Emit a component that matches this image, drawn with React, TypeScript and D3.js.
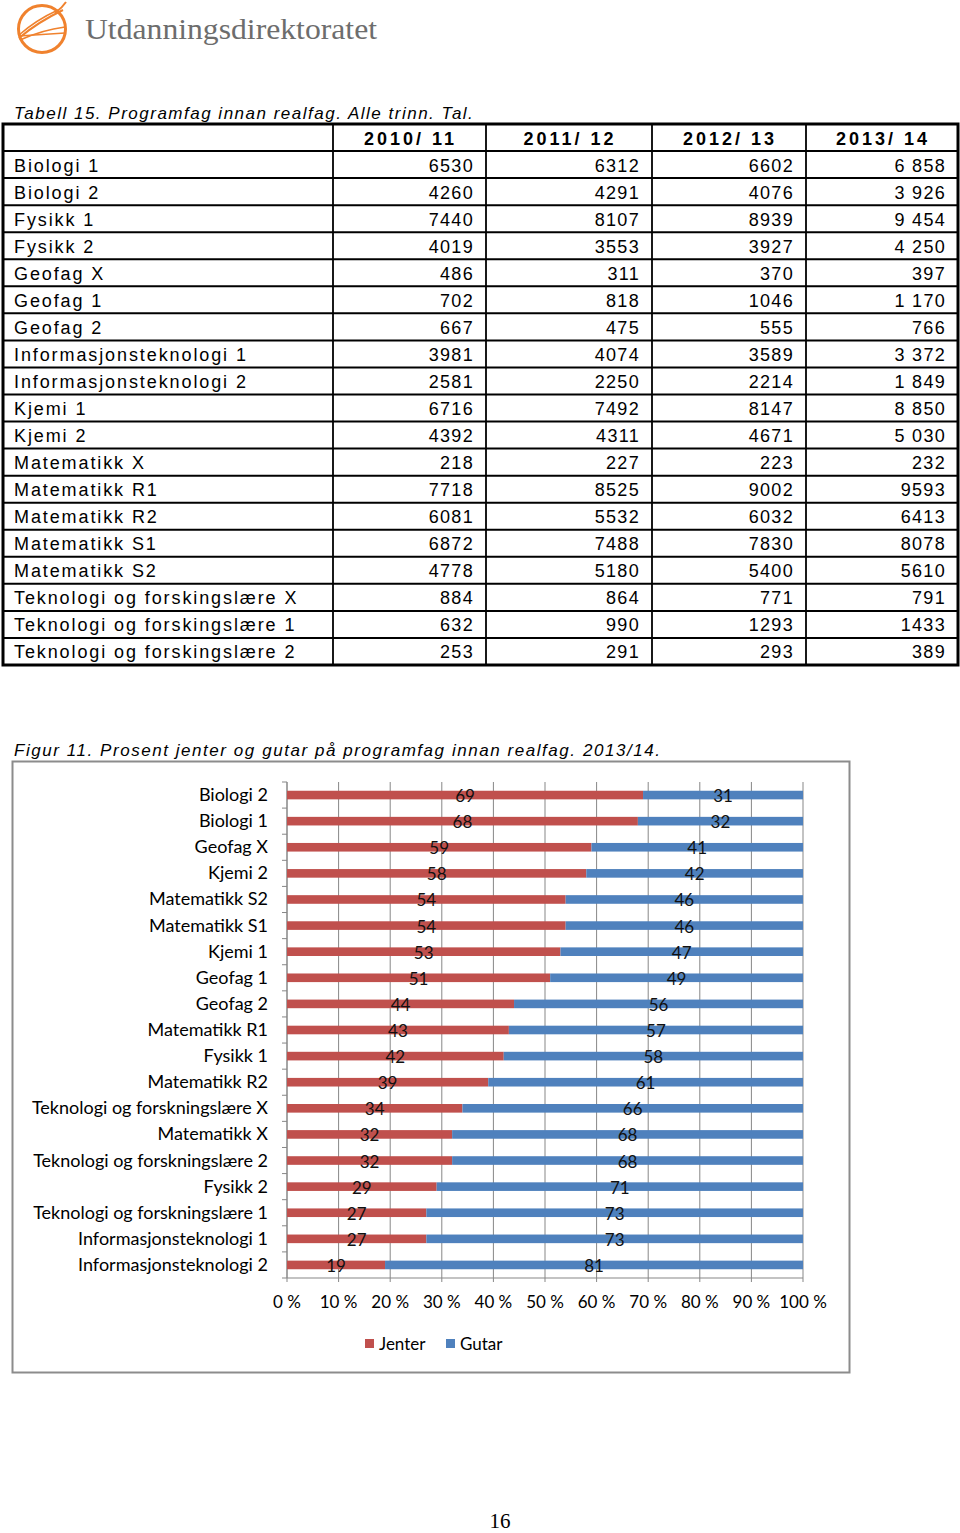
import React from 'react'
import * as d3 from 'd3'

const WIDTH = 960
const HEIGHT = 1533

// table 15
const SUBJECTS = [
  'Biologi 1', 'Biologi 2', 'Fysikk 1', 'Fysikk 2', 'Geofag X', 'Geofag 1', 'Geofag 2',
  'Informasjonsteknologi 1', 'Informasjonsteknologi 2', 'Kjemi 1', 'Kjemi 2',
  'Matematikk X', 'Matematikk R1', 'Matematikk R2', 'Matematikk S1', 'Matematikk S2',
  'Teknologi og forskingslære X', 'Teknologi og forskingslære 1', 'Teknologi og forskingslære 2',
]
const YEARS = ['2010/ 11', '2011/ 12', '2012/ 13', '2013/ 14']
const Y2010 = [6530, 4260, 7440, 4019, 486, 702, 667, 3981, 2581, 6716, 4392, 218, 7718, 6081, 6872, 4778, 884, 632, 253]
const Y2011 = [6312, 4291, 8107, 3553, 311, 818, 475, 4074, 2250, 7492, 4311, 227, 8525, 5532, 7488, 5180, 864, 990, 291]
const Y2012 = [6602, 4076, 8939, 3927, 370, 1046, 555, 3589, 2214, 8147, 4671, 223, 9002, 6032, 7830, 5400, 771, 1293, 293]
const Y2013 = [6858, 3926, 9454, 4250, 397, 1170, 766, 3372, 1849, 8850, 5030, 232, 9593, 6413, 8078, 5610, 791, 1433, 389]
// rows where the last column was printed with a space as thousands separator
const SPACED_ROWS = 12

// figur 11
const CATEGORIES = [
  'Biologi 2', 'Biologi 1', 'Geofag X', 'Kjemi 2', 'Matematikk S2', 'Matematikk S1', 'Kjemi 1',
  'Geofag 1', 'Geofag 2', 'Matematikk R1', 'Fysikk 1', 'Matematikk R2',
  'Teknologi og forskningslære X', 'Matematikk X', 'Teknologi og forskningslære 2', 'Fysikk 2',
  'Teknologi og forskningslære 1', 'Informasjonsteknologi 1', 'Informasjonsteknologi 2',
]
const JENTER = [69, 68, 59, 58, 54, 54, 53, 51, 44, 43, 42, 39, 34, 32, 32, 29, 27, 27, 19]
const GUTAR = [31, 32, 41, 42, 46, 46, 47, 49, 56, 57, 58, 61, 66, 68, 68, 71, 73, 73, 81]
const SERIES = ['Jenter', 'Gutar']
const X_TICKS = [0, 10, 20, 30, 40, 50, 60, 70, 80, 90, 100]

const COLORS = { Jenter: '#C0504D', Gutar: '#4F81BD' }
const TABLE_FONT = '"Liberation Sans", Arial, sans-serif'
const CHART_FONT = 'Lato, "Open Sans", sans-serif'
const GRID = '#878787'

const spaced = (n, i) => (i < SPACED_ROWS && n >= 1000 ? `${Math.floor(n / 1000)} ${String(n % 1000).padStart(3, '0')}` : String(n))

const Logo = () => (
  <g>
    <circle cx={42} cy={29} r={23.5} fill="none" stroke="#F0822E" strokeWidth={3} />
    <path d="M19,38 Q38,22 63,10" fill="none" stroke="#F0822E" strokeWidth={2} />
    <path d="M19,35 Q36,20 58,10" fill="none" stroke="#F0822E" strokeWidth={1.5} />
    <path d="M20,40 Q42,30 65,27" fill="none" stroke="#F0822E" strokeWidth={1.5} />
    <path d="M19,36 L65,33" fill="none" stroke="#F0822E" strokeWidth={1.5} />
    <path d="M55,13 Q62,8 66,2" fill="none" stroke="#F0822E" strokeWidth={2} />
    <text x={85} y={39} fontFamily='"Liberation Serif", serif' fontSize={30} fill="#6d6d6d"
      textLength={292} lengthAdjust="spacingAndGlyphs">Utdanningsdirektoratet</text>
  </g>
)

const Table = () => {
  const cols = [3, 333, 486, 652, 806, 958]
  const rows = d3.scaleBand().domain(['header', ...SUBJECTS]).range([124, 665])
  const values = [Y2010, Y2011, Y2012, Y2013]
  const h = rows.bandwidth()
  return (
    <g fontFamily={TABLE_FONT} fill="#000">
      <text x={14} y={119} fontSize={17} fontStyle="italic" letterSpacing={1.5}>
        Tabell 15. Programfag innan realfag. Alle trinn. Tal.
      </text>
      {SUBJECTS.map(s => (
        <line key={s} x1={cols[0]} x2={cols[5]} y1={rows(s)} y2={rows(s)} stroke="#000" strokeWidth={2} />
      ))}
      {cols.slice(1, 5).map(c => (
        <line key={c} x1={c} x2={c} y1={124} y2={665} stroke="#000" strokeWidth={1.8} />
      ))}
      <rect x={cols[0]} y={124} width={cols[5] - cols[0]} height={665 - 124} fill="none" stroke="#000" strokeWidth={3} />
      {YEARS.map((y, j) => (
        <text key={y} x={(cols[j + 1] + cols[j + 2]) / 2 + 1} y={rows('header') + h / 2 + 7}
          fontSize={18} fontWeight="bold" letterSpacing={3} textAnchor="middle">{y}</text>
      ))}
      {SUBJECTS.map((s, i) => (
        <g key={s}>
          <text x={14} y={rows(s) + h / 2 + 7} fontSize={18} letterSpacing={1.9}>{s}</text>
          {values.map((v, j) => (
            <text key={j} x={cols[j + 2] - 12} y={rows(s) + h / 2 + 7} fontSize={18} letterSpacing={1.3}
              textAnchor="end">{j === 3 ? spaced(v[i], i) : v[i]}</text>
          ))}
        </g>
      ))}
    </g>
  )
}

const Chart = () => {
  const x = d3.scaleLinear().domain([0, 100]).range([287, 803])
  const yBand = d3.scaleBand().domain(CATEGORIES).range([782, 1278])
  const yBar = yBand.copy().paddingInner(0.67).paddingOuter(0.335)
  const rows = CATEGORIES.map((c, i) => ({ cat: c, Jenter: JENTER[i], Gutar: GUTAR[i] }))
  const stacked = d3.stack().keys(SERIES)(rows)
  const [top, bottom] = yBand.range()
  const boundaries = [...CATEGORIES.map(c => yBand(c)), bottom]

  return (
    <g fontFamily={CHART_FONT}>
      <text x={14} y={756} fontFamily={TABLE_FONT} fontSize={17} fontStyle="italic" letterSpacing={1.55}>
        Figur 11. Prosent jenter og gutar på programfag innan realfag. 2013/14.
      </text>
      <rect x={12.5} y={761.5} width={837} height={611} fill="#fff" stroke="#8c8c8c" strokeWidth={2} />

      {X_TICKS.map(t => (
        <line key={t} x1={x(t)} x2={x(t)} y1={top} y2={bottom + 4} stroke={GRID} strokeWidth={1} />
      ))}
      {boundaries.map((b, i) => (
        <line key={i} x1={x(0) - 5} x2={x(0)} y1={b} y2={b} stroke={GRID} strokeWidth={1} />
      ))}
      <line x1={x(0)} x2={x(0)} y1={top} y2={bottom} stroke={GRID} strokeWidth={1} />
      <line x1={x(0)} x2={x(100)} y1={bottom} y2={bottom} stroke={GRID} strokeWidth={1} />

      {stacked.map(layer => (
        <g key={layer.key} fill={COLORS[layer.key]}>
          {layer.map(d => (
            <rect key={d.data.cat} x={x(d[0])} y={yBar(d.data.cat)} width={x(d[1]) - x(d[0])} height={yBar.bandwidth()} />
          ))}
        </g>
      ))}
      {stacked.map(layer => (
        <g key={layer.key} fontSize={17} fill="#111" textAnchor="middle">
          {layer.map(d => (
            <text key={d.data.cat} x={(x(d[0]) + x(d[1])) / 2} y={yBand(d.data.cat) + yBand.bandwidth() / 2 + 7}>
              {d.data[layer.key]}
            </text>
          ))}
        </g>
      ))}

      {CATEGORIES.map(c => (
        <text key={c} x={268} y={yBand(c) + yBand.bandwidth() / 2 + 6} fontSize={18} textAnchor="end" fill="#000">{c}</text>
      ))}
      {X_TICKS.map(t => (
        <text key={t} x={x(t)} y={1308} fontSize={17} textAnchor="middle" fill="#000">{`${t} %`}</text>
      ))}

      <g fontSize={17} fill="#000">
        <rect x={365} y={1339} width={9} height={9} fill={COLORS.Jenter} />
        <text x={379} y={1350}>Jenter</text>
        <rect x={446} y={1339} width={9} height={9} fill={COLORS.Gutar} />
        <text x={460} y={1350}>Gutar</text>
      </g>
    </g>
  )
}

export default function App() {
  return (
    <svg width={WIDTH} height={HEIGHT} viewBox={`0 0 ${WIDTH} ${HEIGHT}`}
      style={{ position: 'absolute', top: 0, left: 0, display: 'block', background: '#fff' }}>
      <rect width={WIDTH} height={HEIGHT} fill="#fff" />
      <Logo />
      <Table />
      <Chart />
      <text x={500} y={1528} fontFamily='"Liberation Serif", serif' fontSize={21} textAnchor="middle" fill="#000">16</text>
    </svg>
  )
}
